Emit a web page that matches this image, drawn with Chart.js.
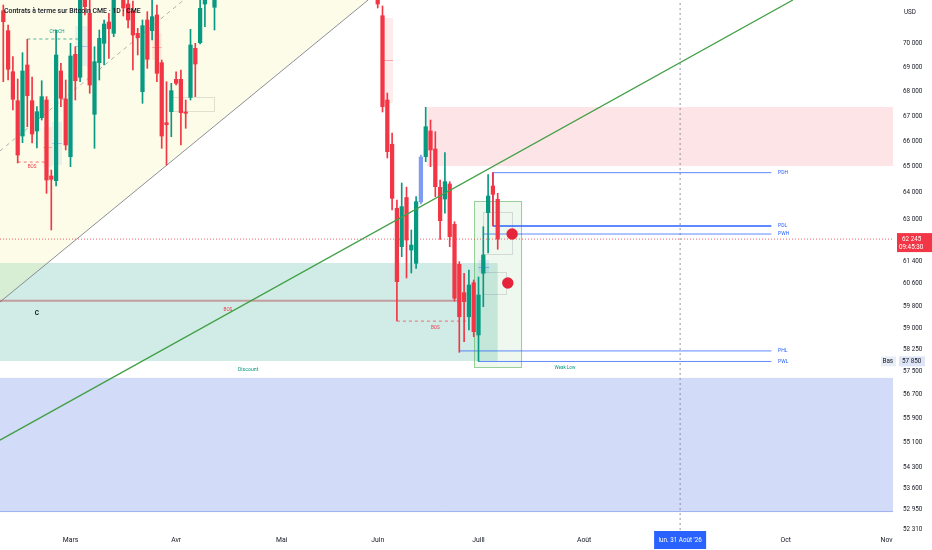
<!DOCTYPE html>
<html lang="fr">
<head>
<meta charset="utf-8">
<title>Contrats à terme sur Bitcoin CME · 1D</title>
<script src="https://cdn.jsdelivr.net/npm/chart.js@4.4.1/dist/chart.umd.min.js"></script>
<style>
  html, body { margin: 0; padding: 0; background: #ffffff; }
  #box { width: 932px; height: 550px; }
</style>
</head>
<body>
<div id="box"><canvas id="myChart" width="932" height="550"></canvas></div>
<script>
// Daily bars. Index 0 = first candle at the left edge,
// null = bar that sits completely above the visible price range.
const opens = [
  71366, 70517, 68807, 67623, 66208, 69084, 67623, 66407, 66938, 67651,
  64641, 64460, 68836, 67692, 65393, 69528, 68576, 72500, 71256, 67075,
  69180, 69986, 70886, 70405, null, 72400, 71654, 71354, 70405, 67988,
  70971, 70517, 71184, 69180, 66739, 67179, 68495, 68495, 67167, 67760,
  69778, 70012, 71654, null, 71513,
  null, null, null, null, null, null, null, null, null, null, null,
  null, null, null, null, null, null, null, null, null, null, null,
  null, null, null, null, null, null, null, null, null, null, null,
  72600, 71154, 67651, 65881, 63404, 61962, 63815, 61840, 61349, 63643,
  65393, 66407, 65695, 64205, 63757, 64333, 62798, 61312, 60279, 59418,
  60641, 58771, 60983, 63240, 64256, 63746
];
const highs = [
  71611, 70759, 69429, 68507, 69595, 70155, 68589, 67381, 68437, 67787,
  64874, 70547, 69153, 68466, 69986, 69845, 72300, 72800, 71900, 69845,
  70547, 70971, 71256, 72200, null, 72600, 71900, 71783, 70617, 70971,
  71325, 71850, 71611, 69291, 68396, 68331, 68807, 68877, 67651, 70576,
  69986, 71900, 72300, null, 72400,
  null, null, null, null, null, null, null, null, null, null, null,
  null, null, null, null, null, null, null, null, null, null, null,
  null, null, null, null, null, null, null, null, null, null, null,
  72800, 71569, 67935, 66328, 63719, 64371, 64212, 62585, 63846, 65459,
  67356, 66846, 66379, 64487, 65550, 64423, 62896, 61408, 60983, 61103,
  60739, 60848, 62708, 64700, 64771, 63974
];
const lows = [
  68396, 68466, 67247, 65147, 65944, 66578, 65932, 65735, 66846, 63974,
  62585, 64256, 67381, 65656, 65003, 67651, 68396, 71184, 67923, 65723,
  68466, 69084, 69361, 70265, null, 71141, 70631, 68877, 69499, 67517,
  68947, 70126, 68396, 65723, 65069, 66180, 68261, 65853, 66515, 67651,
  67787, 69958, 70687, null, 70547,
  null, null, null, null, null, null, null, null, null, null, null,
  null, null, null, null, null, null, null, null, null, null, null,
  null, null, null, null, null, null, null, null, null, null, null,
  71483, 67167, 65342, 63339, 59265, 61592, 60812, 60994, 61165, 63567,
  65198, 65003, 63846, 62237, 63214, 61962, 59980, 58165, 58535, 58947,
  58711, 57850, 59775, 61729, 62734, 61866
];
const closes = [
  70900, 68906, 67679, 65459, 68836, 67826, 66288, 67179, 67787, 64487,
  64514, 69499, 67719, 65853, 69458, 68437, 72100, 71540, 68261, 69222,
  70197, 70801, 70602, 72000, null, 71483, 70971, 70336, 70223, 70729,
  69320, 71112, 68741, 66208, 66658, 68029, 68331, 67139, 67114, 69916,
  69125, 71469, 72100, null, 72200,
  null, null, null, null, null, null, null, null, null, null, null,
  null, null, null, null, null, null, null, null, null, null, null,
  null, null, null, null, null, null, null, null, null, null, null,
  71654, 67381, 65589, 63784, 60677, 63466, 62211, 62025, 63654, 65381,
  66578, 65656, 64229, 62934, 64423, 62335, 60077, 59418, 59955, 60557,
  58887, 60196, 61655, 63872, 63937, 62245
];
const markedBars = [87];

// axes
const priceTicks = [70000, 69000, 68000, 67000, 66000, 65000, 64000, 63000, 61400, 60600,
  59800, 59000, 58250, 57500, 56700, 55900, 55100, 54300, 53600, 52950, 52310];
const priceMin = 52294;
const priceMax = 71826;
const barMin = -0.6875;
const barMax = 185.35;
const monthLabels = ['Mars', 'Avr', 'Mai', 'Juin', 'Juill', 'Août', 'Sept', 'Oct', 'Nov'];
const monthBars = [14, 36, 58, 78, 99, 121, 142, 163, 184];

const lastPrice = 62245;
const lastTime = '09:45:30';
const lowPrice = 57850;
const cursorBar = 141;
const cursorLabel = "lun. 31 Août '26";

// levels drawn by the indicator
const levelNames = ['PDH', 'PDL', 'PWH', 'PHL', 'PWL'];
const levelPrices = [64771, 62734, 62434, 58213, 57847];
const levelStart = [102, 102, 100, 95, 99];
const levelEnd = 160;
const levelLabelBar = 161.4;

// drawings
const trendBars = [-0.7, 164.5];
const trendPrices = [55187, 71826];
const channelBars = [-0.7, 76];
const channelLow = [59944, 71826];
const channelMidBars = [-0.7, 37.6];
const channelMid = [65617, 71826];
const bosBars = [-0.7, 95];
const bosPrice = 59985;
const bosLeftBars = [3, 9];
const bosLeftPrice = 65184;
const bosMidBars = [82, 97];
const bosMidPrice = 59262;
const chochBars = [5, 15.6];
const chochPrice = 70168;
const circleBars = [106, 105.1];
const circlePrices = [62435, 60630];

// zones [bar from, bar to], [price low, price high]
const discountBars = [-0.7, 103];
const discountPrices = [57863, 61360];
const premiumBars = [88.3, 185.4];
const premiumPrices = [65030, 67368];
const lowerBars = [-0.7, 185.4];
const lowerPrices = [52857, 57281];
const rangeBars = [98.1, 108.1];
const rangePrices = [57624, 63682];
const innerBars = [[100, 106.2], [100, 105.1], [35.1, 44.1]];
const innerPrices = [[61655, 63264], [60196, 61030], [67167, 67773]];
const fvgBars = [[8.3, 10.2], [10.2, 12.2], [15, 17.5], [31, 33], [78.6, 81.2], [99, 101.2]];
const fvgPrices = [[64986, 66566], [65069, 66766], [69042, 70715], [69291, 70405], [67530, 71056], [60994, 61470]];
const fvgUp = [false, true, true, false, false, true];

// free text on the chart: [text, bar, price]
const notes = [
  ['CHoCH', 11.2, 70465],
  ['BOS', 6, 64990],
  ['BOS', 46.8, 59660],
  ['BOS', 90, 59030],
  ['Discount', 51, 57550],
  ['Weak Low', 117, 57620]
];
const pivotLabel = ['C', 7, 59540];

const FONT = 'Roboto, "Liberation Sans", sans-serif';
const UP = '#089981';
const DOWN = '#f23645';
const MARK = '#7d9cf0';
const INK = '#131722';

function fmt(v) {
  return String(Math.round(v)).replace(/\B(?=(\d{3})+(?!\d))/g, ' ');
}

function seg(bars, prices) {
  return [{ x: bars[0], y: prices[0] }, { x: bars[1], y: prices[1] }];
}

function lineSet(data, color, width, dash, order, extra) {
  return Object.assign({
    type: 'line', data: data, borderColor: color, borderWidth: width,
    borderDash: dash || [], pointRadius: 0, fill: false, tension: 0, order: order
  }, extra || {});
}

const shown = opens.map((o, i) => i).filter(i => opens[i] !== null);
const candleColors = shown.map(i => markedBars.includes(i) ? MARK : (closes[i] >= opens[i] ? UP : DOWN));

const datasets = [
  lineSet(seg(channelBars, channelLow), 'rgba(120,123,134,0.85)', 1, [], 30,
    { fill: 'end', backgroundColor: 'rgba(245,235,120,0.17)' }),
  lineSet(seg(channelMidBars, channelMid), 'rgba(120,123,134,0.6)', 1, [4, 4], 29),
  lineSet(seg(bosBars, [bosPrice, bosPrice]), 'rgba(178,60,70,0.45)', 2, [], 20),
  lineSet(seg(bosLeftBars, [bosLeftPrice, bosLeftPrice]), 'rgba(242,54,69,0.7)', 1, [3, 3], 20),
  lineSet(seg(bosMidBars, [bosMidPrice, bosMidPrice]), 'rgba(242,54,69,0.7)', 1, [3, 3], 20),
  lineSet(seg(chochBars, [chochPrice, chochPrice]), 'rgba(8,153,129,0.7)', 1, [3, 3], 20),
  lineSet(seg([barMin, barMax], [lastPrice, lastPrice]), 'rgba(242,54,69,0.8)', 1, [1, 2], 20),
  lineSet(seg([cursorBar, cursorBar], [priceMin, priceMax]), 'rgba(120,123,134,0.8)', 1, [2, 3], 20),
  lineSet(seg([levelStart[0], levelStart[0]], [levelPrices[0], levelPrices[1]]), 'rgba(41,98,255,0.75)', 1, [], 15)
];
levelNames.forEach((name, k) => {
  datasets.push(lineSet(seg([levelStart[k], levelEnd], [levelPrices[k], levelPrices[k]]),
    'rgba(41,98,255,0.75)', name === 'PDL' ? 2 : 1, [], 15));
});
datasets.push({
  type: 'bar', data: shown.map(i => ({ x: i, y: [lows[i], highs[i]] })),
  backgroundColor: candleColors, barThickness: 1, grouped: false, order: 3
});
datasets.push({
  type: 'bar', data: shown.map(i => ({ x: i, y: [opens[i], closes[i]] })),
  backgroundColor: candleColors, barThickness: 3.6, grouped: false, order: 2
});
datasets.push(lineSet(seg(trendBars, trendPrices), '#43a047', 1.3, [], 1));
datasets.push(lineSet(seg(circleBars, circlePrices), 'rgba(0,0,0,0)', 0, [], 0,
  { showLine: false, pointRadius: 5.7, pointBackgroundColor: '#e5243b', pointBorderWidth: 0 }));

function X(chart, b) { return chart.scales.x.getPixelForValue(b); }
function Y(chart, p) { return chart.scales.y.getPixelForValue(p); }

function box(chart, bars, prices, fill, stroke) {
  const ctx = chart.ctx;
  const x0 = X(chart, bars[0]), x1 = X(chart, bars[1]);
  const y0 = Y(chart, prices[1]), y1 = Y(chart, prices[0]);
  if (fill) { ctx.fillStyle = fill; ctx.fillRect(x0, y0, x1 - x0, y1 - y0); }
  if (stroke) {
    ctx.strokeStyle = stroke; ctx.lineWidth = 1;
    ctx.strokeRect(Math.round(x0) + 0.5, Math.round(y0) + 0.5, Math.round(x1 - x0) - 1, Math.round(y1 - y0) - 1);
  }
  return [x0, y0, x1, y1];
}

function text(ctx, str, x, y, size, color, align, weight) {
  ctx.font = (weight ? weight + ' ' : '') + size + 'px ' + FONT;
  ctx.fillStyle = color;
  ctx.textAlign = align || 'left';
  ctx.textBaseline = 'middle';
  ctx.fillText(str, x, y);
}

const zonesPlugin = {
  id: 'zones',
  beforeDatasetsDraw(chart) {
    const ctx = chart.ctx, a = chart.chartArea;
    ctx.save();
    ctx.beginPath(); ctx.rect(a.left, a.top, a.width, a.height); ctx.clip();
    box(chart, discountBars, discountPrices, 'rgba(8,153,129,0.19)');
    box(chart, premiumBars, premiumPrices, 'rgba(242,54,69,0.13)');
    const lz = box(chart, lowerBars, lowerPrices, 'rgba(50,90,225,0.22)');
    ctx.strokeStyle = 'rgba(50,90,225,0.3)'; ctx.lineWidth = 1;
    ctx.beginPath();
    ctx.moveTo(lz[0], Math.round(lz[3]) - 0.5); ctx.lineTo(lz[2], Math.round(lz[3]) - 0.5);
    ctx.stroke();
    box(chart, rangeBars, rangePrices, 'rgba(76,175,80,0.09)', 'rgba(76,175,80,0.55)');
    innerBars.forEach((b, k) => box(chart, b, innerPrices[k], null, 'rgba(120,123,134,0.25)'));
    fvgBars.forEach((b, k) => {
      const c = fvgUp[k] ? 'rgba(41,98,255,' : 'rgba(242,54,69,';
      const r = box(chart, b, fvgPrices[k], c + '0.1)');
      const ym = Math.round((r[1] + r[3]) / 2) + 0.5;
      ctx.strokeStyle = c + '0.4)'; ctx.lineWidth = 1;
      ctx.beginPath(); ctx.moveTo(r[0], ym); ctx.lineTo(r[2], ym); ctx.stroke();
    });
    ctx.restore();
  },
  afterDatasetsDraw(chart) {
    const ctx = chart.ctx, a = chart.chartArea;
    ctx.save();
    ctx.beginPath(); ctx.rect(a.left, a.top, a.width, a.height); ctx.clip();
    levelNames.forEach((name, k) => {
      text(ctx, name, X(chart, levelLabelBar), Y(chart, levelPrices[k]), 5, '#2962ff');
    });
    notes.forEach(n => {
      const green = n[0] === 'CHoCH' || n[0] === 'Discount' || n[0] === 'Weak Low';
      text(ctx, n[0], X(chart, n[1]), Y(chart, n[2]), n[0] === 'Discount' ? 5.2 : 4.6,
        green ? '#089981' : '#f23645', 'center');
    });
    text(ctx, pivotLabel[0], X(chart, pivotLabel[1]), Y(chart, pivotLabel[2]), 6.5, INK, 'center', 'bold');
    // title, squeezed to the width it has in the picture
    const title = 'Contrats à terme sur Bitcoin CME · 1D · CME';
    ctx.font = '500 7px ' + FONT;
    const fs = 7 * 137 / ctx.measureText(title).width;
    text(ctx, title, a.left + 4, 11, fs, INK, 'left', '500');
    ctx.restore();
  },
  afterDraw(chart) {
    const ctx = chart.ctx, a = chart.chartArea;
    ctx.save();
    text(ctx, 'USD', a.right + 11, 12, 6.3, INK);
    // last price
    const yl = Y(chart, lastPrice);
    ctx.fillStyle = '#f23645';
    ctx.fillRect(a.right + 4, yl - 6, 35, 19);
    text(ctx, fmt(lastPrice), a.right + 9, yl, 6.3, '#ffffff');
    text(ctx, lastTime, a.right + 6, yl + 8.5, 6.3, '#ffffff');
    // low marker
    const yb = Y(chart, lowPrice);
    ctx.fillStyle = '#e9edf5';
    ctx.fillRect(a.right - 12, yb - 5, 15, 10);
    ctx.fillStyle = '#dde5f6';
    ctx.fillRect(a.right + 6, yb - 5, 26, 10);
    text(ctx, 'Bas', a.right - 10.5, yb, 6.3, INK);
    text(ctx, fmt(lowPrice), a.right + 9, yb, 6.3, INK);
    // cursor date
    const xc = X(chart, cursorBar);
    ctx.fillStyle = '#2962ff';
    ctx.fillRect(xc - 26, a.bottom + 1, 52, 18);
    text(ctx, cursorLabel, xc, a.bottom + 10, 6.3, '#ffffff', 'center');
    ctx.restore();
  }
};

new Chart(document.getElementById('myChart'), {
  type: 'bar',
  data: { datasets: datasets },
  options: {
    responsive: false,
    animation: false,
    layout: { padding: 0, autoPadding: false },
    plugins: { legend: { display: false }, tooltip: { enabled: false } },
    scales: {
      x: {
        type: 'linear', min: barMin, max: barMax, offset: false,
        grid: { display: false, drawTicks: false }, border: { display: false },
        afterBuildTicks: s => { s.ticks = monthBars.map(v => ({ value: v })); },
        afterFit: s => { s.height = 20; s.paddingLeft = 0; s.paddingRight = 0; },
        ticks: {
          autoSkip: false, maxRotation: 0, padding: 6, color: INK,
          font: { size: 6.8, family: FONT },
          callback: v => { const k = monthBars.indexOf(v); return k >= 0 ? monthLabels[k] : ''; }
        }
      },
      y: {
        type: 'logarithmic', position: 'right', min: priceMin, max: priceMax,
        grid: { display: false, drawTicks: false }, border: { display: false },
        afterBuildTicks: s => { s.ticks = priceTicks.map(v => ({ value: v })); },
        afterFit: s => { s.width = 39; s.paddingTop = 0; s.paddingBottom = 0; },
        ticks: {
          autoSkip: false, padding: 10, color: INK,
          font: { size: 6.3, family: FONT },
          callback: v => fmt(v)
        }
      }
    }
  },
  plugins: [zonesPlugin]
});
</script>
</body>
</html>
